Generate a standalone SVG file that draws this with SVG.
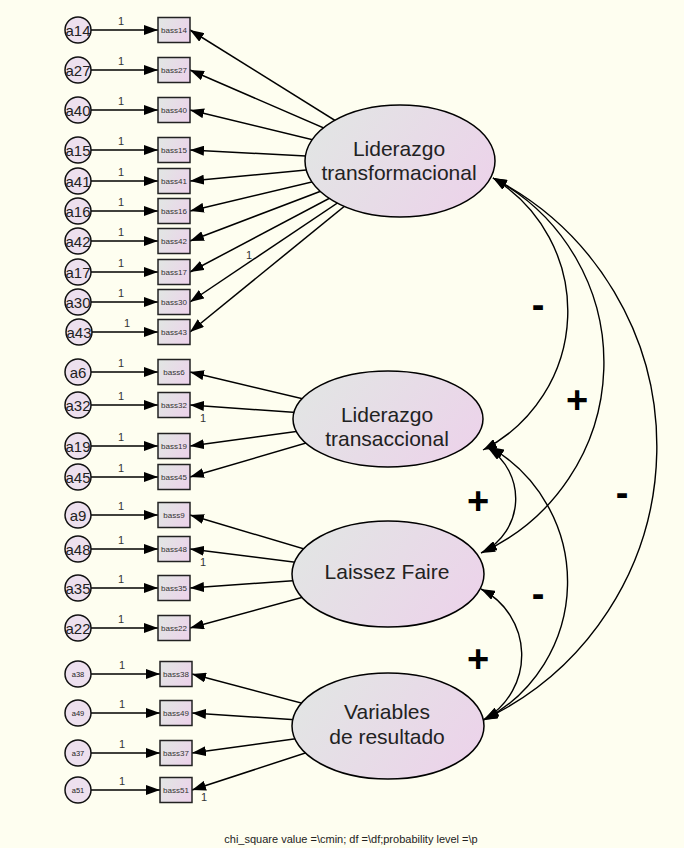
<svg xmlns="http://www.w3.org/2000/svg" width="684" height="848" viewBox="0 0 684 848">
<defs>
  <linearGradient id="fillG" x1="0" y1="0.3" x2="1" y2="0.7">
    <stop offset="0" stop-color="#e2e5e4"/>
    <stop offset="1" stop-color="#ecd3ea"/>
  </linearGradient>
  <marker id="arr" markerUnits="userSpaceOnUse" markerWidth="14" markerHeight="10" viewBox="0 0 14 10" refX="14" refY="5" orient="auto">
    <path d="M0,0 L14,5 L0,10 z" fill="#000"/>
  </marker>
  <marker id="arr2" markerUnits="userSpaceOnUse" markerWidth="14" markerHeight="10" viewBox="0 0 14 10" refX="14" refY="5" orient="auto-start-reverse">
    <path d="M0,0 L14,5 L0,10 z" fill="#000"/>
  </marker>
</defs>
<style>
  .bg{fill:#fefef0}
  .lat{fill:url(#fillG);stroke:#000;stroke-width:1.5}
  .obs{fill:url(#fillG);stroke:#222;stroke-width:1.5}
  .err{fill:#ede0ee;stroke:#111;stroke-width:1.5}
  .ln{stroke:#000;stroke-width:1.5;fill:none;marker-end:url(#arr)}
  .cov{stroke:#000;stroke-width:1.4;fill:none;marker-start:url(#arr2);marker-end:url(#arr2)}
  text{font-family:"Liberation Sans",Arial,sans-serif;fill:#222;text-anchor:middle}
  .big{font-size:21px}
  .en{font-size:15px}
  .es{font-size:7.5px}
  .bx{font-size:8px;fill:#333}
  .one{font-size:11px;fill:#333}
  .sg{font-size:38px;font-weight:bold;fill:#000}
  .cap{font-size:11px;fill:#222}
</style>

<rect class="bg" x="0" y="0" width="684" height="848"/>

<!-- connectors: error terms, loadings, covariances -->
<g id="connectors">
  <!-- error -> indicator -->
  <line class="ln" x1="91" y1="30" x2="158" y2="30"/>
  <line class="ln" x1="91" y1="70" x2="158" y2="70"/>
  <line class="ln" x1="91" y1="110" x2="158" y2="110"/>
  <line class="ln" x1="91" y1="150" x2="158" y2="150"/>
  <line class="ln" x1="91" y1="181" x2="158" y2="181"/>
  <line class="ln" x1="91" y1="211" x2="158" y2="211"/>
  <line class="ln" x1="91" y1="241" x2="158" y2="241"/>
  <line class="ln" x1="91" y1="272" x2="158" y2="272"/>
  <line class="ln" x1="91" y1="302" x2="158" y2="302"/>
  <line class="ln" x1="91" y1="332" x2="158" y2="332"/>
  <line class="ln" x1="91" y1="372" x2="158" y2="372"/>
  <line class="ln" x1="91" y1="405" x2="158" y2="405"/>
  <line class="ln" x1="91" y1="446" x2="158" y2="446"/>
  <line class="ln" x1="91" y1="477" x2="158" y2="477"/>
  <line class="ln" x1="91" y1="515" x2="158" y2="515"/>
  <line class="ln" x1="91" y1="549" x2="158" y2="549"/>
  <line class="ln" x1="91" y1="588" x2="158" y2="588"/>
  <line class="ln" x1="91" y1="628" x2="158" y2="628"/>
  <line class="ln" x1="91" y1="674" x2="160" y2="674"/>
  <line class="ln" x1="91" y1="713" x2="160" y2="713"/>
  <line class="ln" x1="91" y1="753" x2="160" y2="753"/>
  <line class="ln" x1="91" y1="790" x2="160" y2="790"/>

  <!-- latent -> indicator (start hidden under the ellipse) -->
  <line class="ln" x1="400" y1="161" x2="190" y2="30"/>
  <line class="ln" x1="400" y1="161" x2="190" y2="70"/>
  <line class="ln" x1="400" y1="161" x2="190" y2="110"/>
  <line class="ln" x1="400" y1="161" x2="190" y2="150"/>
  <line class="ln" x1="400" y1="161" x2="190" y2="181"/>
  <line class="ln" x1="400" y1="161" x2="190" y2="211"/>
  <line class="ln" x1="400" y1="161" x2="190" y2="241"/>
  <line class="ln" x1="400" y1="161" x2="190" y2="272"/>
  <line class="ln" x1="400" y1="161" x2="190" y2="302"/>
  <line class="ln" x1="400" y1="161" x2="190" y2="332"/>
  <line class="ln" x1="388" y1="419" x2="190" y2="372"/>
  <line class="ln" x1="388" y1="419" x2="190" y2="405"/>
  <line class="ln" x1="388" y1="419" x2="190" y2="446"/>
  <line class="ln" x1="388" y1="419" x2="190" y2="477"/>
  <line class="ln" x1="388" y1="574" x2="190" y2="515"/>
  <line class="ln" x1="388" y1="574" x2="190" y2="549"/>
  <line class="ln" x1="388" y1="574" x2="190" y2="588"/>
  <line class="ln" x1="388" y1="574" x2="190" y2="628"/>
  <line class="ln" x1="388" y1="726" x2="192" y2="674"/>
  <line class="ln" x1="388" y1="726" x2="192" y2="713"/>
  <line class="ln" x1="388" y1="726" x2="192" y2="753"/>
  <line class="ln" x1="388" y1="726" x2="192" y2="790"/>

  <!-- covariances -->
  <path class="cov" d="M493,178 A156,156 0 0 1 483,450"/>
  <path class="cov" d="M493,178 A209,209 0 0 1 481,553"/>
  <path class="cov" d="M493,178 A302,302 0 0 1 483,720"/>
  <path class="cov" d="M488,448 A60,60 0 0 1 483,552"/>
  <path class="cov" d="M490,447 A156,156 0 0 1 484,720"/>
  <path class="cov" d="M481,589 A74,74 0 0 1 485,719"/>

  <!-- fixed weights -->
  <text class="one" x="121" y="25">1</text>
  <text class="one" x="121" y="65">1</text>
  <text class="one" x="121" y="105">1</text>
  <text class="one" x="121" y="145">1</text>
  <text class="one" x="121" y="176">1</text>
  <text class="one" x="121" y="206">1</text>
  <text class="one" x="121" y="236">1</text>
  <text class="one" x="121" y="267">1</text>
  <text class="one" x="121" y="297">1</text>
  <text class="one" x="127" y="327">1</text>
  <text class="one" x="121" y="367">1</text>
  <text class="one" x="121" y="400">1</text>
  <text class="one" x="121" y="441">1</text>
  <text class="one" x="121" y="472">1</text>
  <text class="one" x="121" y="510">1</text>
  <text class="one" x="121" y="544">1</text>
  <text class="one" x="121" y="583">1</text>
  <text class="one" x="121" y="623">1</text>
  <text class="one" x="122" y="669">1</text>
  <text class="one" x="122" y="708">1</text>
  <text class="one" x="122" y="748">1</text>
  <text class="one" x="122" y="785">1</text>
  <text class="one" x="249" y="259">1</text>
  <text class="one" x="203" y="422">1</text>
  <text class="one" x="203" y="566">1</text>
  <text class="one" x="204" y="801">1</text>

  <!-- covariance signs -->
  <text class="sg" x="538" y="318">-</text>
  <text class="sg" x="577" y="413">+</text>
  <text class="sg" x="478" y="514">+</text>
  <text class="sg" x="622" y="506">-</text>
  <text class="sg" x="538" y="607">-</text>
  <text class="sg" x="478" y="672">+</text>
</g>

<!-- latent variables -->
<g id="liderazgo_transformacional">
  <ellipse class="lat" cx="400" cy="161" rx="95" ry="56"/>
  <text class="big" x="399" y="156">Liderazgo</text>
  <text class="big" x="399" y="180">transformacional</text>
</g>
<g id="liderazgo_transaccional">
  <ellipse class="lat" cx="388" cy="419" rx="95" ry="48"/>
  <text class="big" x="387" y="422">Liderazgo</text>
  <text class="big" x="387" y="446">transaccional</text>
</g>
<g id="laissez_faire">
  <ellipse class="lat" cx="388" cy="574" rx="96" ry="53"/>
  <text class="big" x="387" y="579">Laissez Faire</text>
</g>
<g id="variables_resultado">
  <ellipse class="lat" cx="388" cy="726" rx="96" ry="53"/>
  <text class="big" x="387" y="719">Variables</text>
  <text class="big" x="387" y="744">de resultado</text>
</g>

<!-- observed indicators -->
<g id="bass14"><rect class="obs" x="158" y="17.5" width="32" height="25"/><text class="bx" x="174" y="33">bass14</text></g>
<g id="bass27"><rect class="obs" x="158" y="57.5" width="32" height="25"/><text class="bx" x="174" y="73">bass27</text></g>
<g id="bass40"><rect class="obs" x="158" y="97.5" width="32" height="25"/><text class="bx" x="174" y="113">bass40</text></g>
<g id="bass15"><rect class="obs" x="158" y="137.5" width="32" height="25"/><text class="bx" x="174" y="153">bass15</text></g>
<g id="bass41"><rect class="obs" x="158" y="168.5" width="32" height="25"/><text class="bx" x="174" y="184">bass41</text></g>
<g id="bass16"><rect class="obs" x="158" y="198.5" width="32" height="25"/><text class="bx" x="174" y="214">bass16</text></g>
<g id="bass42"><rect class="obs" x="158" y="228.5" width="32" height="25"/><text class="bx" x="174" y="244">bass42</text></g>
<g id="bass17"><rect class="obs" x="158" y="259.5" width="32" height="25"/><text class="bx" x="174" y="275">bass17</text></g>
<g id="bass30"><rect class="obs" x="158" y="289.5" width="32" height="25"/><text class="bx" x="174" y="305">bass30</text></g>
<g id="bass43"><rect class="obs" x="158" y="319.5" width="32" height="25"/><text class="bx" x="174" y="335">bass43</text></g>
<g id="bass6"><rect class="obs" x="158" y="359.5" width="32" height="25"/><text class="bx" x="174" y="375">bass6</text></g>
<g id="bass32"><rect class="obs" x="158" y="392.5" width="32" height="25"/><text class="bx" x="174" y="408">bass32</text></g>
<g id="bass19"><rect class="obs" x="158" y="433.5" width="32" height="25"/><text class="bx" x="174" y="449">bass19</text></g>
<g id="bass45"><rect class="obs" x="158" y="464.5" width="32" height="25"/><text class="bx" x="174" y="480">bass45</text></g>
<g id="bass9"><rect class="obs" x="158" y="502.5" width="32" height="25"/><text class="bx" x="174" y="518">bass9</text></g>
<g id="bass48"><rect class="obs" x="158" y="536.5" width="32" height="25"/><text class="bx" x="174" y="552">bass48</text></g>
<g id="bass35"><rect class="obs" x="158" y="575.5" width="32" height="25"/><text class="bx" x="174" y="591">bass35</text></g>
<g id="bass22"><rect class="obs" x="158" y="615.5" width="32" height="25"/><text class="bx" x="174" y="631">bass22</text></g>
<g id="bass38"><rect class="obs" x="160" y="661.5" width="32" height="25"/><text class="bx" x="176" y="677">bass38</text></g>
<g id="bass49"><rect class="obs" x="160" y="700.5" width="32" height="25"/><text class="bx" x="176" y="716">bass49</text></g>
<g id="bass37"><rect class="obs" x="160" y="740.5" width="32" height="25"/><text class="bx" x="176" y="756">bass37</text></g>
<g id="bass51"><rect class="obs" x="160" y="777.5" width="32" height="25"/><text class="bx" x="176" y="793">bass51</text></g>

<!-- error terms -->
<g id="a14"><circle class="err" cx="78" cy="30" r="13"/><text class="en" x="78" y="35.5">a14</text></g>
<g id="a27"><circle class="err" cx="78" cy="70" r="13"/><text class="en" x="78" y="75.5">a27</text></g>
<g id="a40"><circle class="err" cx="78" cy="110" r="13"/><text class="en" x="78" y="115.5">a40</text></g>
<g id="a15"><circle class="err" cx="78" cy="150" r="13"/><text class="en" x="78" y="155.5">a15</text></g>
<g id="a41"><circle class="err" cx="78" cy="181" r="13"/><text class="en" x="78" y="186.5">a41</text></g>
<g id="a16"><circle class="err" cx="78" cy="211" r="13"/><text class="en" x="78" y="216.5">a16</text></g>
<g id="a42"><circle class="err" cx="78" cy="241" r="13"/><text class="en" x="78" y="246.5">a42</text></g>
<g id="a17"><circle class="err" cx="78" cy="272" r="13"/><text class="en" x="78" y="277.5">a17</text></g>
<g id="a30"><circle class="err" cx="78" cy="302" r="13"/><text class="en" x="78" y="307.5">a30</text></g>
<g id="a43"><circle class="err" cx="79" cy="332" r="13"/><text class="en" x="79" y="337.5">a43</text></g>
<g id="a6"><circle class="err" cx="78" cy="372" r="13"/><text class="en" x="78" y="377.5">a6</text></g>
<g id="a32"><circle class="err" cx="78" cy="405" r="13"/><text class="en" x="78" y="410.5">a32</text></g>
<g id="a19"><circle class="err" cx="78" cy="446" r="13"/><text class="en" x="78" y="451.5">a19</text></g>
<g id="a45"><circle class="err" cx="78" cy="477" r="13"/><text class="en" x="78" y="482.5">a45</text></g>
<g id="a9"><circle class="err" cx="78" cy="515" r="13"/><text class="en" x="78" y="520.5">a9</text></g>
<g id="a48"><circle class="err" cx="78" cy="549" r="13"/><text class="en" x="78" y="554.5">a48</text></g>
<g id="a35"><circle class="err" cx="78" cy="588" r="13"/><text class="en" x="78" y="593.5">a35</text></g>
<g id="a22"><circle class="err" cx="78" cy="628" r="13"/><text class="en" x="78" y="633.5">a22</text></g>
<g id="a38"><circle class="err" cx="78" cy="674" r="13"/><text class="es" x="78" y="676.7">a38</text></g>
<g id="a49"><circle class="err" cx="78" cy="713" r="13"/><text class="es" x="78" y="715.7">a49</text></g>
<g id="a37"><circle class="err" cx="78" cy="753" r="13"/><text class="es" x="78" y="755.7">a37</text></g>
<g id="a51"><circle class="err" cx="78" cy="790" r="13"/><text class="es" x="78" y="792.7">a51</text></g>

<text class="cap" x="351" y="843">chi_square value =\cmin; df =\df;probability level =\p</text>
</svg>
